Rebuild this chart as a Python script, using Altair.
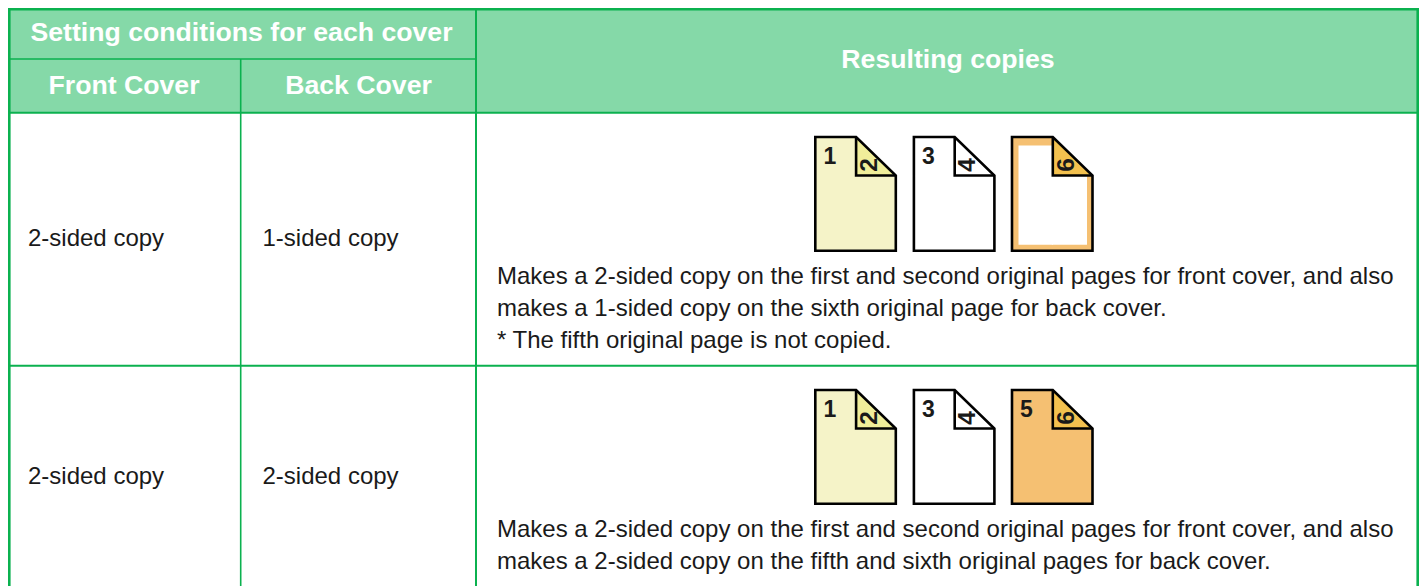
import altair as alt
import pandas as pd

# ---- content ----
HEADER_TEXTS = ["Setting conditions for each cover", "Front Cover", "Back Cover", "Resulting copies"]
FIRST_COLUMN = ["2-sided copy", "2-sided copy"]
SECOND_COLUMN = ["1-sided copy", "2-sided copy"]
ROW1_LINES = [
    "Makes a 2-sided copy on the first and second original pages for front cover, and also",
    "makes a 1-sided copy on the sixth original page for back cover.",
    "* The fifth original page is not copied.",
]
ROW2_LINES = [
    "Makes a 2-sided copy on the first and second original pages for front cover, and also",
    "makes a 2-sided copy on the fifth and sixth original pages for back cover.",
]
ROW1_FRONT_DIGITS = ["1", "3", ""]
ROW1_FLAP_DIGITS = ["2", "4", "6"]
ROW2_FRONT_DIGITS = ["1", "3", "5"]
ROW2_FLAP_DIGITS = ["2", "4", "6"]

# ---- style ----
GREEN = "#0BB14F"
HEAD = "#85D9A8"
INK = "#1A1A1A"
YELLOW, YELLOW_FLAP = "#F5F3C8", "#F0EE9A"
ORANGE, ORANGE_FLAP = "#F5C072", "#F3C14F"
WHITE = "#FFFFFF"
FONT = "Liberation Sans"

# ---- layout (page pixels) ----
H = 586
X_MIN, X_MAX, Y_MIN = 8, 1419, 8
L, R = 9.3, 1417.7
T = 9.3
C1, C2 = 240.7, 476
HEAD_MID, HEAD_BOTTOM, ROW_SEP = 59, 112.7, 365.7
PAGE_LEFT = [815.3, 913.9, 1012]
PAGE_W, FOLD = 80.5, 39.7
ROW_TOP = [137, 390]
PAGE_H = [113.7, 113.7]
FOLD_H = [38.5, 38.5]

x = alt.X("x:Q", scale=alt.Scale(domain=[X_MIN, X_MAX]), axis=None)
y = alt.Y("y:Q", scale=alt.Scale(domain=[Y_MIN, H], reverse=True), axis=None, stack=None)

# header band
band = alt.Chart(pd.DataFrame([{"x": L, "x2": R, "y": T, "y2": HEAD_BOTTOM}])).mark_rect(color=HEAD).encode(
    x=x, x2="x2:Q", y=y, y2="y2:Q")

# grid lines
grid_rows = [
    (L, L, T - 1.3, H, 2.6), (C1, C1, HEAD_MID, H, 1.6), (C2, C2, Y_MIN, H, 2),
    (R, R, T - 1.3, H, 2.6),
    (L, R + 1.3, T, T, 2.6), (L, C2, HEAD_MID, HEAD_MID, 1.6),
    (L, R, HEAD_BOTTOM, HEAD_BOTTOM, 2), (L, R, ROW_SEP, ROW_SEP, 2),
]
grid = alt.Chart(pd.DataFrame(grid_rows, columns=["x", "x2", "y", "y2", "w"])).mark_rule(color=GREEN).encode(
    x=x, x2="x2:Q", y=y, y2="y2:Q", strokeWidth=alt.StrokeWidth("w:Q", scale=None))

# pages
inner, outline, fold = [], [], []
row_styles = [
    [(YELLOW, YELLOW_FLAP), (WHITE, WHITE), (ORANGE, ORANGE_FLAP)],
    [(YELLOW, YELLOW_FLAP), (WHITE, WHITE), (ORANGE, ORANGE_FLAP)],
]
body, flap = [], []
for r, top in enumerate(ROW_TOP):
    bot, yf = top + PAGE_H[r], top + FOLD_H[r]
    for p, x0 in enumerate(PAGE_LEFT):
        pid = f"{r}-{p}"
        x1, xf = x0 + PAGE_W, x0 + PAGE_W - FOLD
        fc, ff = row_styles[r][p]
        body += [{"id": pid, "x": x0, "y": top, "y2": bot, "c": fc},
                 {"id": pid, "x": xf, "y": top, "y2": bot, "c": fc},
                 {"id": pid, "x": x1, "y": yf, "y2": bot, "c": fc}]
        flap += [{"id": pid, "x": xf, "y": top, "y2": yf, "c": ff},
                 {"id": pid, "x": x1, "y": yf, "y2": yf, "c": ff}]
        outline += [{"id": pid, "x": a, "y": b, "o": i} for i, (a, b) in enumerate(
            [(x0, top), (xf, top), (x1, yf), (x1, bot), (x0, bot), (x0, top), (xf, top)])]
        fold += [{"id": pid, "x": a, "y": b, "o": i} for i, (a, b) in enumerate(
            [(xf, top), (xf, yf), (x1, yf)])]
        if r == 0 and p == 2:
            inner += [{"x": x0 + 6.5, "x2": xf, "y": top + 8.5, "y2": bot - 6},
                      {"x": xf - 1, "x2": x1 - 5.5, "y": yf, "y2": bot - 6}]


def area(rows, colour):
    keep = [row for row in rows if row["c"] == colour]
    return alt.Chart(pd.DataFrame(keep)).mark_area(color=colour, opacity=1, orient="vertical").encode(
        x=x, y=y, y2=alt.Y2("y2:Q"), detail="id:N")


def stroke(rows):
    return alt.Chart(pd.DataFrame(rows)).mark_line(
        color="#000000", strokeWidth=2.6, strokeJoin="miter", strokeCap="butt", interpolate="linear"
    ).encode(x=x, y=y, detail="id:N", order="o:Q")


body_ls = [area(body, c) for c in [YELLOW, WHITE, ORANGE]]
flap_ls = [area(flap, c) for c in [YELLOW_FLAP, WHITE, ORANGE_FLAP]]
inner_l = alt.Chart(pd.DataFrame(inner)).mark_rect(color=WHITE).encode(x=x, x2="x2:Q", y=y, y2="y2:Q")
outline_l, fold_l = stroke(outline), stroke(fold)

# text
BODY_SIZE = 24
HEAD_SIZE = 26.67
DIGIT_SIZE = 23
FLAP_SIZE = 24.5


def text_layer(rows, **mk):
    return alt.Chart(pd.DataFrame(rows)).mark_text(font=FONT, **mk).encode(x=x, y=y, text="t:N")


head_rows = [{"t": t, "x": a, "y": b} for t, a, b in zip(
    HEADER_TEXTS, [241.5, 124, 358.5, 948], [40.5, 94, 94, 67.5])]
cell_rows = []
for t, a, b in zip(FIRST_COLUMN, [28, 28], [246, 484]):
    cell_rows.append({"t": t, "x": a, "y": b})
for t, a, b in zip(SECOND_COLUMN, [262.5, 262.5], [246, 484]):
    cell_rows.append({"t": t, "x": a, "y": b})
for t, b in zip(ROW1_LINES, [284, 316, 348]):
    cell_rows.append({"t": t, "x": 497, "y": b})
for t, b in zip(ROW2_LINES, [537, 569]):
    cell_rows.append({"t": t, "x": 497, "y": b})

digit_rows, flap_rows = [], []
for digits, flaps, top in zip([ROW1_FRONT_DIGITS, ROW2_FRONT_DIGITS], [ROW1_FLAP_DIGITS, ROW2_FLAP_DIGITS], ROW_TOP):
    for d, f, x0 in zip(digits, flaps, PAGE_LEFT):
        if d:
            digit_rows.append({"t": d, "x": x0 + 14.5, "y": top + 20})
        flap_rows.append({"t": f, "x": x0 + 54.5, "y": top + 28})

layers = [
    band, grid, *body_ls, inner_l, *flap_ls, outline_l, fold_l,
    text_layer(head_rows, align="center", baseline="alphabetic", fontSize=HEAD_SIZE, fontWeight="bold", color=WHITE),
    text_layer(cell_rows, align="left", baseline="alphabetic", fontSize=BODY_SIZE, color=INK),
    text_layer(digit_rows, align="center", baseline="middle", fontSize=DIGIT_SIZE, fontWeight="bold", color=INK),
    text_layer(flap_rows, align="center", baseline="middle", fontSize=FLAP_SIZE, fontWeight="bold", color=INK, angle=270),
]

chart = alt.layer(*layers).properties(
    width=X_MAX - X_MIN, height=H - Y_MIN, padding=0, autosize=alt.AutoSizeParams(type="none")
).configure_view(stroke=None).configure(background="#FFFFFF")

chart.save("out.html", embed_options={"renderer": "svg", "actions": False})
